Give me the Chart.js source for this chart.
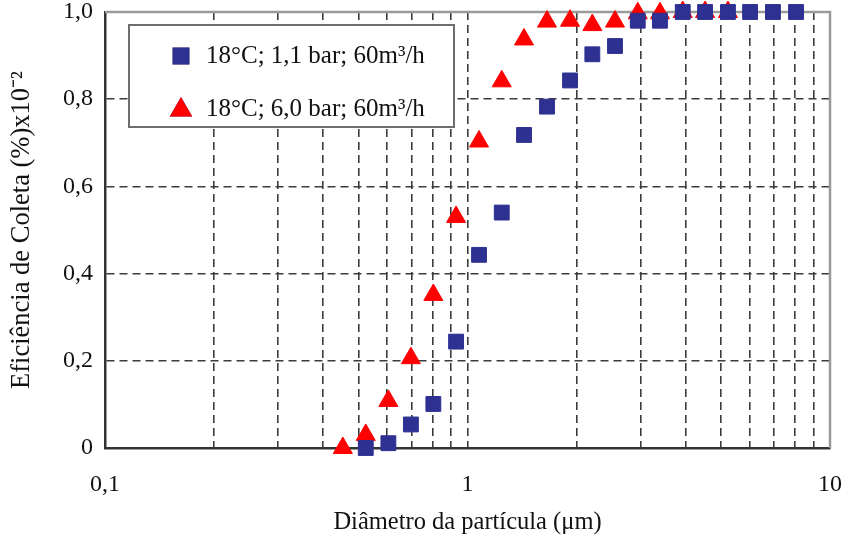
<!DOCTYPE html>
<html>
<head>
<meta charset="utf-8">
<script src="https://cdn.jsdelivr.net/npm/chart.js@4"></script>
<style>
  html, body { margin: 0; padding: 0; background: #fff; }
  #c { display: block; }
</style>
</head>
<body>
<canvas id="c" width="847" height="544"></canvas>
<script>
// values (diameter in um, efficiency x10^-2)
const seriesLabels = ['18°C; 1,1 bar; 60m³/h', '18°C; 6,0 bar; 60m³/h'];
const diamLow  = [0.524, 0.605, 0.698, 0.805, 0.930, 1.076, 1.243, 1.432, 1.657, 1.918, 2.210, 2.552, 2.949, 3.396, 3.924, 4.522, 5.23, 6.02, 6.96, 8.06];
const effLow   = [0.0, 0.011, 0.054, 0.101, 0.244, 0.443, 0.540, 0.718, 0.783, 0.843, 0.903, 0.922, 0.980, 0.980, 1.0, 1.0, 1.0, 1.0, 1.0, 1.0];
const diamHigh = [0.453, 0.524, 0.605, 0.698, 0.805, 0.930, 1.076, 1.243, 1.432, 1.657, 1.918, 2.210, 2.552, 2.949, 3.396, 3.924, 4.522, 5.23];
const effHigh  = [0.0, 0.030, 0.108, 0.206, 0.351, 0.530, 0.703, 0.841, 0.937, 0.978, 0.980, 0.970, 0.978, 0.997, 0.997, 1.0, 1.0, 1.0];

const xTickValues = [0.1, 0.2, 0.3, 0.4, 0.5, 0.6, 0.7, 0.8, 0.9, 1, 2, 3, 4, 5, 6, 7, 8, 9, 10];
const xTickLabels = { 0.1: '0,1', 1: '1', 10: '10' };
const yTickValues = [0, 0.2, 0.4, 0.6, 0.8, 1];
const yTickLabels = ['0', '0,2', '0,4', '0,6', '0,8', '1,0'];

const FONT = "'Liberation Serif', 'Times New Roman', serif";
const GRID = '#3c3c3c';

function pairs(xs, ys) {
  return xs.map(function (x, i) { return { x: x, y: ys[i] }; });
}

const blue = '#2e3192';
const red = '#ff0000';

// gray frame on top/right edges
const framePlugin = {
  id: 'frame',
  beforeDatasetsDraw(chart) {
    const a = chart.chartArea, ctx = chart.ctx;
    ctx.save();
    ctx.strokeStyle = '#9a9a9a';
    ctx.lineWidth = 2.5;
    ctx.beginPath();
    ctx.moveTo(a.left, a.top);
    ctx.lineTo(a.right, a.top);
    ctx.lineTo(a.right, a.bottom);
    ctx.stroke();
    ctx.restore();
  }
};

// boxed legend inside the plot
const boxLegend = {
  id: 'boxLegend',
  afterDatasetsDraw(chart) {
    const ctx = chart.ctx;
    const x0 = 129, y0 = 25, w = 325, h = 102;
    ctx.save();
    ctx.fillStyle = '#fff';
    ctx.fillRect(x0, y0, w, h);
    ctx.strokeStyle = '#6e6e6e';
    ctx.lineWidth = 2;
    ctx.strokeRect(x0, y0, w, h);
    const rows = [56, 109];
    chart.data.datasets.forEach(function (ds, i) {
      Chart.helpers.drawPoint(ctx, {
        pointStyle: ds.pointStyle,
        radius: ds.pointRadius,
        rotation: 0,
        borderWidth: 1
      }, 181, rows[i] + (ds.pointStyle === 'triangle' ? 1 : 0));
      ctx.fillStyle = ds.backgroundColor;
      ctx.strokeStyle = ds.borderColor;
      ctx.fill();
      ctx.stroke();
      ctx.fillStyle = '#111';
      ctx.font = '25px ' + FONT;
      ctx.textBaseline = 'middle';
      ctx.textAlign = 'left';
      ctx.fillText(ds.label, 206, rows[i]);
    });
    ctx.restore();
  }
};

new Chart(document.getElementById('c'), {
  type: 'scatter',
  data: {
    datasets: [
      {
        label: seriesLabels[0],
        data: pairs(diamLow, effLow),
        pointStyle: 'rect',
        pointRadius: 10.5,
        pointHoverRadius: 10.5,
        backgroundColor: blue,
        borderColor: blue,
        borderWidth: 1,
        clip: false
      },
      {
        label: seriesLabels[1],
        data: pairs(diamHigh, effHigh),
        pointStyle: 'triangle',
        pointRadius: 11,
        pointHoverRadius: 11,
        backgroundColor: red,
        borderColor: red,
        borderWidth: 1,
        clip: false
      }
    ]
  },
  options: {
    responsive: false,
    animation: false,
    layout: { autoPadding: false, padding: 0 },
    plugins: {
      legend: { display: false },
      tooltip: { enabled: false }
    },
    scales: {
      x: {
        type: 'logarithmic',
        min: 0.1,
        max: 10,
        afterBuildTicks(scale) {
          scale.ticks = xTickValues.map(function (v) { return { value: v }; });
        },
        afterFit(scale) {
          scale.height = 96;
          scale.paddingLeft = 0;
          scale.paddingRight = 17;
        },
        ticks: {
          autoSkip: false,
          maxRotation: 0,
          padding: 22,
          color: '#111',
          font: { family: FONT, size: 24 },
          callback: function (v) { return xTickLabels[v] || ''; }
        },
        grid: { color: GRID, lineWidth: 1.6, drawTicks: false },
        border: { color: '#333', width: 2.5, dash: [8, 5] },
        title: {
          display: true,
          text: 'Diâmetro da partícula (μm)',
          color: '#111',
          font: { family: FONT, size: 24.5 },
          padding: { top: 0, bottom: 7 }
        }
      },
      y: {
        min: 0,
        max: 1,
        afterBuildTicks(scale) {
          scale.ticks = yTickValues.map(function (v) { return { value: v }; });
        },
        afterFit(scale) {
          scale.width = 105;
          scale.paddingTop = 12;
          scale.paddingBottom = 0;
        },
        ticks: {
          padding: 12,
          color: '#111',
          font: { family: FONT, size: 24, lineHeight: 1 },
          callback: function (v, i) { return yTickLabels[i]; }
        },
        grid: { color: GRID, lineWidth: 1.6, drawTicks: false },
        border: { color: '#333', width: 2.5, dash: [8, 5] },
        title: {
          display: true,
          text: 'Eficiência de Coleta (%)x10⁻²',
          color: '#111',
          font: { family: FONT, size: 26.5 },
          padding: { top: 6, bottom: 0 }
        }
      }
    }
  },
  plugins: [framePlugin, boxLegend]
});
</script>
</body>
</html>
